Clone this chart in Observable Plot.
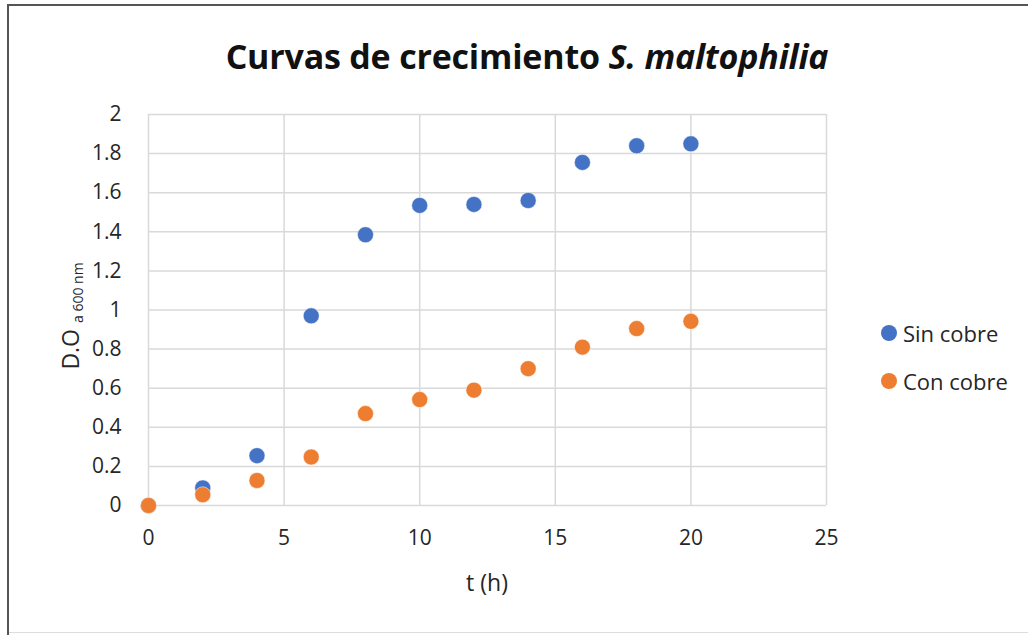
<!DOCTYPE html>
<html>
<head>
<meta charset="utf-8">
<script src="https://cdn.jsdelivr.net/npm/d3@7"></script>
<script src="https://cdn.jsdelivr.net/npm/@observablehq/plot@0.6"></script>
<style>
  html, body { margin: 0; padding: 0; background: #fff; }
  #wrap { position: relative; width: 1028px; height: 635px; overflow: hidden; font-family: "Open Sans", Lato, sans-serif; color: #262626; }
  #frameTop { position: absolute; left: 7px; top: 4px; width: 1021px; height: 2px; background: #555; }
  #frameLeft { position: absolute; left: 7px; top: 4px; width: 2px; height: 631px; background: #555; }
  #frameBottom { position: absolute; left: 9px; top: 632px; width: 1019px; height: 1px; background: #ddd; }
  #chart { position: absolute; left: 0; top: 0; }
  #title { position: absolute; left: 0; width: 1054px; top: 33px; text-align: center; font-size: 34px; line-height: normal; font-weight: bold; color: #111; letter-spacing: -0.2px; }
  #ylabel { position: absolute; left: 70px; top: 316px; transform: translate(-50%, -50%) rotate(-90deg); white-space: nowrap; font-size: 23px; line-height: normal; color: #262626; }
  #ylabel sub { font-size: 14px; vertical-align: -4px; }
  #xlabel { position: absolute; left: 487px; top: 566px; transform: translateX(-50%); font-size: 23px; line-height: normal; color: #262626; }
  .leg { position: absolute; left: 881px; font-size: 22px; line-height: normal; color: #262626; display: flex; align-items: center; }
  .leg span.sw { display: inline-block; width: 16px; height: 16px; border-radius: 50%; margin-right: 6px; }
</style>
</head>
<body>
<div id="wrap">
  <div id="chart"></div>
  <div id="frameTop"></div>
  <div id="frameLeft"></div>
  <div id="frameBottom"></div>
  <div id="title">Curvas de crecimiento <i>S. maltophilia</i></div>
  <div id="ylabel">D.O <sub>a 600 nm</sub></div>
  <div id="xlabel">t (h)</div>
  <div id="legend"></div>
</div>
<script>
const hours = [0, 2, 4, 6, 8, 10, 12, 14, 16, 18, 20];
const sinCobre = [0, 0.09, 0.255, 0.97, 1.385, 1.535, 1.54, 1.56, 1.755, 1.84, 1.85];
const conCobre = [0, 0.055, 0.128, 0.248, 0.47, 0.542, 0.59, 0.70, 0.81, 0.905, 0.942];
const seriesNames = ["Sin cobre", "Con cobre"];
const seriesColors = ["#4472C4", "#ED7D31"];
const xTicks = [0, 5, 10, 15, 20, 25];
const yTicks = [0, 0.2, 0.4, 0.6, 0.8, 1, 1.2, 1.4, 1.6, 1.8, 2];

const data = [];
hours.forEach((t, i) => data.push({t, v: sinCobre[i], s: seriesNames[0]}));
hours.forEach((t, i) => data.push({t, v: conCobre[i], s: seriesNames[1]}));

const chart = Plot.plot({
  width: 1028,
  height: 635,
  marginLeft: 148,
  marginRight: 202,
  marginTop: 114,
  marginBottom: 130,
  style: { fontFamily: "'Open Sans', Lato, sans-serif", fontSize: "21px", color: "#262626", background: "transparent" },
  x: { domain: [0, 25] },
  y: { domain: [0, 2] },
  color: { domain: seriesNames, range: seriesColors },
  marks: [
    Plot.gridX(xTicks, { stroke: "#d9d9d9", strokeOpacity: 1, strokeWidth: 1.5 }),
    Plot.gridY(yTicks, { stroke: "#d9d9d9", strokeOpacity: 1, strokeWidth: 1.5 }),
    Plot.axisX(xTicks, { tickSize: 0, tickPadding: 25, fontSize: 21, label: null, tickFormat: d => String(d) }),
    Plot.axisY(yTicks, { tickSize: 0, tickPadding: 27, fontSize: 21, label: null, tickFormat: d => String(d) }),
    Plot.dot(data, { x: "t", y: "v", fill: "s", r: 8, stroke: "white", strokeWidth: 0.5 })
  ]
});
document.getElementById("chart").appendChild(chart);

const legend = document.getElementById("legend");
seriesNames.forEach((name, i) => {
  const d = document.createElement("div");
  d.className = "leg";
  d.style.top = (318 + i * 48) + "px";
  d.innerHTML = `<span class="sw" style="background:${seriesColors[i]}"></span>${name}`;
  legend.appendChild(d);
});
</script>
</body>
</html>
